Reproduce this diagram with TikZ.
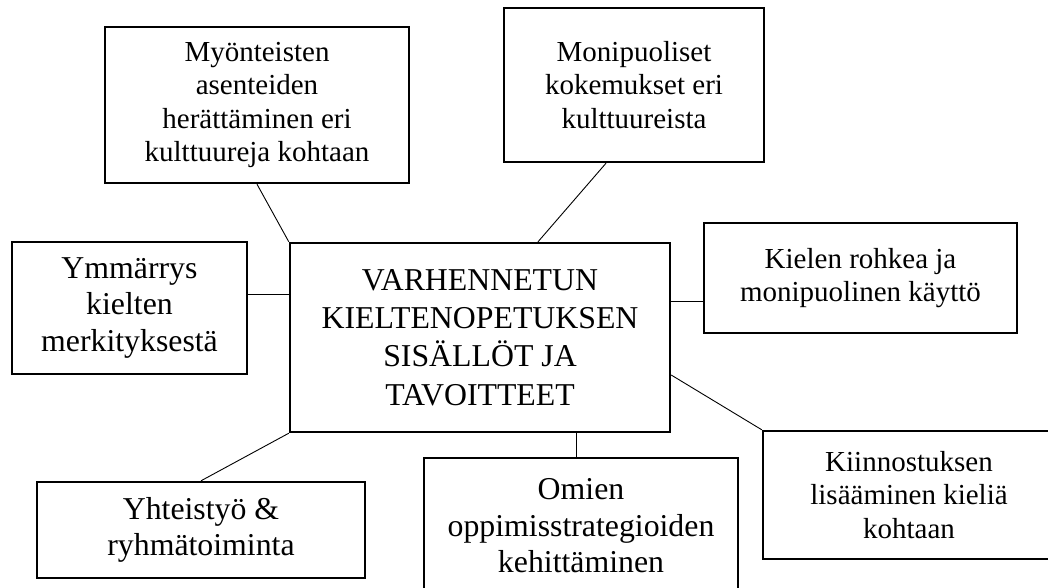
\documentclass[tikz,border=0pt]{standalone}
\usepackage{fontspec}
\setmainfont{Liberation Serif}
\begin{document}
\begin{tikzpicture}[x=1pt,y=-1pt,
  box/.style={draw, line width=2.4pt, rectangle, inner sep=0pt, align=center},
  link/.style={line width=0.9pt},
  fa/.style={font=\fontsize{29}{33.6}\selectfont},
  fb/.style={font=\fontsize{31.8}{36.5}\selectfont},
  fc/.style={font=\fontsize{31.8}{38.3}\selectfont}]
\useasboundingbox (0,0) rectangle (1048,587);
\fill[white] (0,0) rectangle (1048,587);
\clip (0,0) rectangle (1048,587);

\node[box,fc,minimum width=380pt,minimum height=189pt] (c) at (480,337.5)
  {VARHENNETUN\\KIELTENOPETUKSEN\\SISÄLLÖT JA\\TAVOITTEET};
\node[box,fa,minimum width=304pt,minimum height=156pt] (tl) at (257,105)
  {Myönteisten\\asenteiden\\herättäminen eri\\kulttuureja kohtaan};
\node[box,fa,minimum width=260pt,minimum height=154pt] (tr) at (634,85)
  {Monipuoliset\\kokemukset eri\\kulttuureista};
\node[box,fb,minimum width=235pt,minimum height=132pt] (l) at (129.5,308)
  {Ymmärrys\\kielten\\merkityksestä};
\node[box,fa,minimum width=313pt,minimum height=110pt] (r) at (860.5,278)
  {Kielen rohkea ja\\monipuolinen käyttö};
\node[box,fa,minimum width=292pt,minimum height=128pt] (br) at (909,495)
  {Kiinnostuksen\\lisääminen kieliä\\kohtaan};
\node[box,fb,minimum width=314pt,minimum height=136pt] (bc) at (581,526)
  {Omien\\oppimisstrategioiden\\kehittäminen};
\node[box,fb,minimum width=328pt,minimum height=96pt] (bl) at (201,530)
  {Yhteistyö \&\\ryhmätoiminta};

\draw[link] (tl.south) -- (c.north west);
\draw[link] ([xshift=-28pt]tr.south) -- ([xshift=58pt]c.north);
\draw[link] ([yshift=14pt]l.east) -- ([yshift=14pt]l.east -| c.west);
\draw[link] ([yshift=-23pt]r.west) -- ([yshift=-23pt]r.west -| c.east);
\draw[link] ([yshift=-37.5pt]c.east) -- (br.north west);
\draw[link] ([xshift=-5pt]bc.north) -- ([xshift=-5pt]bc.north |- c.south);
\draw[link] (c.south west) -- (bl.north);
\end{tikzpicture}
\end{document}
